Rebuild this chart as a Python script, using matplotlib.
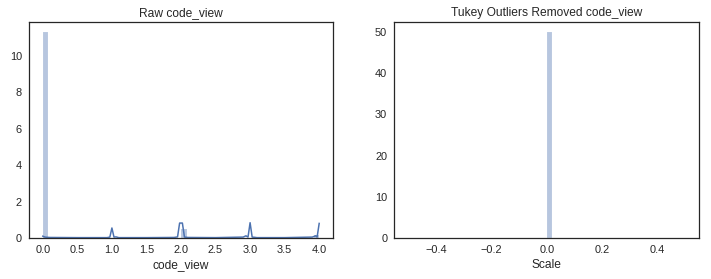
import numpy as np
import matplotlib
matplotlib.use("Agg")
import matplotlib.pyplot as plt

# ---- data ----
raw_bin_centers = [0.04, 2.04, 3.96]
raw_bin_density = [11.3, 0.50, 0.15]
raw_bins = 50
raw_range = (0.0, 4.0)

kde_x = [0.0, 0.03, 0.06, 0.1, 0.5, 0.93, 0.97, 1.0, 1.03, 1.06, 1.1, 1.5,
         1.9, 1.95, 1.98, 2.02, 2.05, 2.1, 2.5, 2.9, 2.94, 2.97, 3.0, 3.03,
         3.06, 3.1, 3.5, 3.9, 3.95, 3.97, 4.0]
kde_y = [0.10, 0.05, 0.04, 0.03, 0.02, 0.02, 0.05, 0.55, 0.05, 0.06, 0.02, 0.02,
         0.03, 0.06, 0.82, 0.82, 0.05, 0.03, 0.02, 0.05, 0.12, 0.05, 0.84, 0.05,
         0.04, 0.02, 0.02, 0.05, 0.12, 0.05, 0.80]

clean_bin_centers = [0.01]
clean_bin_density = [50.0]
clean_bins = 50
clean_range = (-0.5, 0.5)

left_title = "Raw code_view"
left_xlabel = "code_view"
right_title = "Tukey Outliers Removed code_view"
right_xlabel = "Scale"
left_xticks = [0.0, 0.5, 1.0, 1.5, 2.0, 2.5, 3.0, 3.5, 4.0]
left_yticks = [0, 2, 4, 6, 8, 10]
right_xticks = [-0.4, -0.2, 0.0, 0.2, 0.4]
right_yticks = [0, 10, 20, 30, 40, 50]

# ---- style ----
blue = "#4C72B0"
plt.rcParams["font.family"] = ["Liberation Sans", "DejaVu Sans"]
plt.rcParams["axes.edgecolor"] = "0.15"
plt.rcParams["axes.linewidth"] = 1.25
plt.rcParams["text.color"] = "0.15"
plt.rcParams["xtick.color"] = "0.15"
plt.rcParams["ytick.color"] = "0.15"
plt.rcParams["axes.labelcolor"] = "0.15"

fig = plt.figure(figsize=(711 / 72, 279 / 72), dpi=72)
ax1 = fig.add_axes([29 / 711, 41 / 279, 304 / 711, 216.3 / 279])
ax2 = fig.add_axes([394.3 / 711, 41 / 279, 305 / 711, 216.3 / 279])

ax1.hist(raw_bin_centers, bins=raw_bins, range=raw_range, weights=raw_bin_density,
         color=blue, alpha=0.4, edgecolor="white", linewidth=0.3)
ax1.plot(kde_x, kde_y, color=blue, lw=1.5)
ax1.set_xlim(-0.2, 4.2)
ax1.set_ylim(0, 11.3 * 1.05)
ax1.set_xticks(left_xticks)
ax1.set_yticks(left_yticks)
ax1.set_title(left_title, fontsize=12)
ax1.set_xlabel(left_xlabel, fontsize=12)

ax2.hist(clean_bin_centers, bins=clean_bins, range=clean_range, weights=clean_bin_density,
         color=blue, alpha=0.4, edgecolor="white", linewidth=0.3)
ax2.set_xlim(-0.55, 0.55)
ax2.set_ylim(0, 52.5)
ax2.set_xticks(right_xticks)
ax2.set_yticks(right_yticks)
ax2.set_title(right_title, fontsize=12)
ax2.set_xlabel(right_xlabel, fontsize=12)

for ax in (ax1, ax2):
    ax.tick_params(axis="both", length=0, labelsize=11, pad=7)

fig.savefig("out.png", dpi=72)
